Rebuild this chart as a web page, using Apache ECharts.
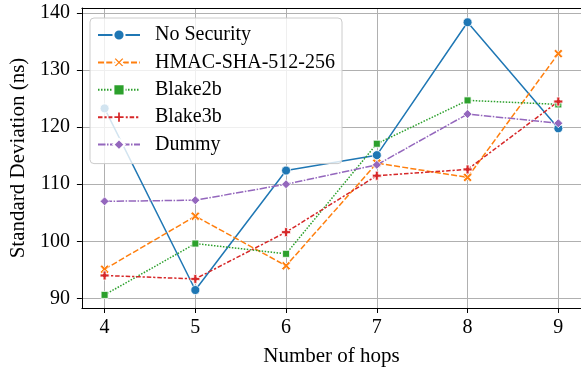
<!DOCTYPE html>
<html>
<head>
<meta charset="utf-8">
<script src="https://cdn.jsdelivr.net/npm/echarts@6/dist/echarts.min.js"></script>
<style>html,body{margin:0;padding:0;background:#fff;}#c{width:581px;height:373px;}</style>
</head>
<body>
<div id="c"></div>
<script>
const hops = [4, 5, 6, 7, 8, 9];
const xTicks = [4, 5, 6, 7, 8, 9];
const yTicks = [90, 100, 110, 120, 130, 140];
const seriesNames = ['No Security', 'HMAC-SHA-512-256', 'Blake2b', 'Blake3b', 'Dummy'];
const noSecurity = [123.3, 91.45, 112.4, 115.1, 138.4, 119.8];
const hmac = [95.1, 104.4, 95.7, 113.7, 111.2, 132.9];
const blake2b = [90.6, 99.6, 97.8, 117.1, 124.7, 124.0];
const blake3b = [94.0, 93.4, 101.6, 111.5, 112.6, 124.5];
const dummy = [107.0, 107.2, 110.0, 113.4, 122.3, 120.7];

const FONT = 'Liberation Serif';
const X_PATH = 'path://M0,2 L2,0 L5,3 L8,0 L10,2 L7,5 L10,8 L8,10 L5,7 L2,10 L0,8 L3,5 Z';
const P_PATH = 'path://M3.33,0 H6.67 V3.33 H10 V6.67 H6.67 V10 H3.33 V6.67 H0 V3.33 H3.33 Z';

const styles = [
  {color: '#1f77b4', dash: 'solid', symbol: 'circle', size: 9},
  {color: '#ff7f0e', dash: [6, 2.25], symbol: X_PATH, size: 9},
  {color: '#2ca02c', dash: [1.5, 1.5], symbol: 'rect', size: 7},
  {color: '#d62728', dash: [4.5, 1.9, 2.25, 1.9], symbol: P_PATH, size: 9},
  {color: '#9467bd', dash: [7.5, 1.5, 1.5, 1.5], symbol: 'diamond', size: 9}
];
const values = [noSecurity, hmac, blake2b, blake3b, dummy];

const series = values.map((vals, k) => ({
  name: seriesNames[k],
  type: 'line',
  data: hops.map((h, i) => [h, vals[i]]),
  symbol: styles[k].symbol,
  symbolSize: styles[k].size,
  showSymbol: true,
  lineStyle: {color: styles[k].color, width: 1.5, type: styles[k].dash},
  itemStyle: {color: styles[k].color, borderColor: '#ffffff', borderWidth: 0.8},
  emphasis: {disabled: true}
}));

const chart = echarts.init(document.getElementById('c'), null, {renderer: 'canvas'});
chart.setOption({
  animation: false,
  backgroundColor: '#ffffff',
  grid: {left: 80, top: 8, right: -2, bottom: 65},
  xAxis: [{
    type: 'value', min: 3.75, max: 9.25,
    name: 'Number of hops', nameLocation: 'middle', nameGap: 38,
    nameTextStyle: {fontFamily: FONT, fontSize: 21, color: '#000'},
    axisLine: {show: true, lineStyle: {color: '#000', width: 1}},
    axisTick: {show: true, length: 5, lineStyle: {color: '#000'}, customValues: xTicks},
    axisLabel: {fontFamily: FONT, fontSize: 20, color: '#000', margin: 10, customValues: xTicks},
    splitLine: {show: true, lineStyle: {color: '#b0b0b0', width: 1}}
  }, {
    type: 'value', min: 3.75, max: 9.25, position: 'top',
    axisLine: {show: true, onZero: false, lineStyle: {color: '#000', width: 1}},
    axisTick: {show: false}, axisLabel: {show: false}, splitLine: {show: false}
  }],
  yAxis: {
    type: 'value', min: 88.3, max: 140.9,
    name: 'Standard Deviation (ns)', nameLocation: 'middle', nameGap: 52,
    nameTextStyle: {fontFamily: FONT, fontSize: 21, color: '#000'},
    axisLine: {show: true, lineStyle: {color: '#000', width: 1}},
    axisTick: {show: true, length: 5, lineStyle: {color: '#000'}, customValues: yTicks},
    axisLabel: {fontFamily: FONT, fontSize: 20, color: '#000', margin: 12, customValues: yTicks},
    splitLine: {show: true, lineStyle: {color: '#b0b0b0', width: 1}}
  },
  legend: {
    orient: 'vertical', left: 90, top: 18,
    data: seriesNames,
    itemWidth: 42, itemHeight: 14, itemGap: 7.4,
    padding: [7, 7, 9, 7],
    backgroundColor: 'rgba(255,255,255,0.8)',
    borderColor: '#cccccc', borderWidth: 1, borderRadius: 4,
    textStyle: {fontFamily: FONT, fontSize: 20, color: '#000', padding: [0, 0, 0, 10]},
    selectedMode: false
  },
  series: series
});
</script>
</body>
</html>
